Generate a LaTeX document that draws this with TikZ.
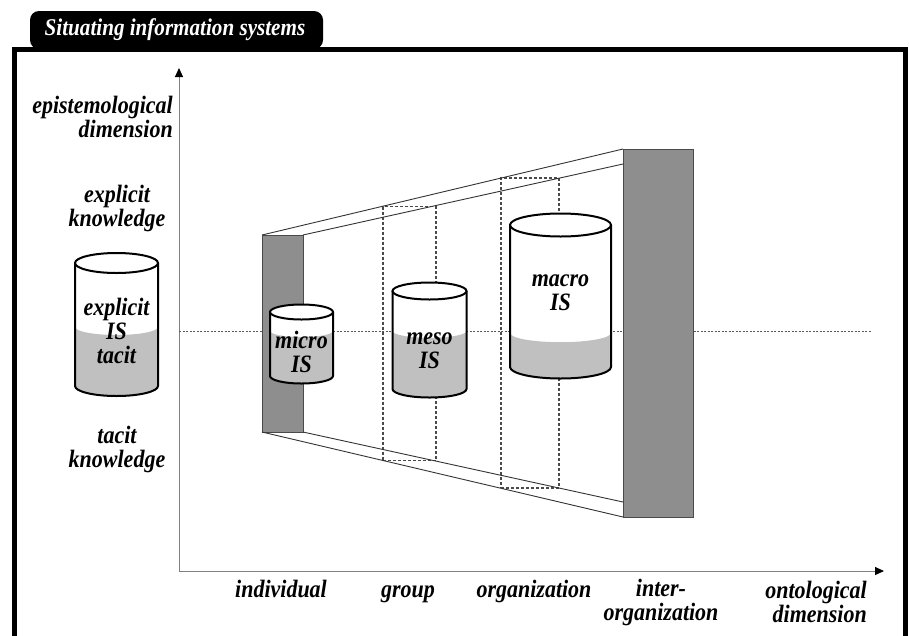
\documentclass[tikz,border=0pt]{standalone}
\usepackage{fontspec}
\setmainfont{Liberation Serif}
\newfontfamily\labfont[FakeStretch=0.88]{Liberation Serif}
\usetikzlibrary{arrows.meta}
\definecolor{bargrey}{HTML}{8E8E8E}
\definecolor{barline}{HTML}{4A4A4A}
\definecolor{liquid}{HTML}{C0C0C0}
\definecolor{axisgrey}{HTML}{808080}
\tikzset{
  lbl/.style={font=\labfont\fontsize{25}{24}\selectfont\bfseries\itshape, inner sep=0pt, align=center},
  bar/.style={draw=barline, fill=bargrey, line width=1pt, inner sep=0pt, outer sep=0pt},
  slice/.style={draw=barline, dashed, dash pattern=on 3pt off 2pt, line width=1.1pt, inner sep=0pt, outer sep=0pt},
  persp/.style={draw=black!80, line width=0.9pt},
  cylline/.style={draw=black, line width=2pt},
  axisline/.style={draw=axisgrey, line width=1pt, -{Triangle[length=9pt,width=8pt,color=black]}},
}
\newcommand\drawcyl[6]{% cx, top cy, bottom cy, rx, ry, level
  \fill[white] ({#1-#4},{-#2}) -- ({#1-#4},{-#3}) arc[start angle=180,end angle=360,x radius=#4,y radius=#5] -- ({#1+#4},{-#2}) -- cycle;
  \fill[liquid] ({#1-#4},{-#6}) arc[start angle=180,end angle=360,x radius=#4,y radius=#5*0.8] -- ({#1+#4},{-#3}) arc[start angle=0,end angle=-180,x radius=#4,y radius=#5] -- cycle;
  \draw[cylline] ({#1-#4},{-#2}) -- ({#1-#4},{-#3}) arc[start angle=180,end angle=360,x radius=#4,y radius=#5] -- ({#1+#4},{-#2});
  \draw[cylline,fill=white] (#1,{-#2}) ellipse[x radius=#4,y radius=#5];
}
\begin{document}
\begin{tikzpicture}[x=1pt,y=1pt]
\useasboundingbox (0,0) rectangle (909,-635);
% frame and tab
\fill[black, rounded corners=9pt] (30,-49) -- (30,-11) -- (323,-11) -- (323,-49) -- cycle;
\node[font=\labfont\fontsize{24}{24}\selectfont\bfseries\itshape, text=white, inner sep=0pt] (title) at (175,-30) {Situating information systems};
\draw[black, line width=5pt] (14,-640) -- (14,-49) -- (905.5,-49) -- (905.5,-640);
% axes
\coordinate (origin) at (179,-571);
\coordinate (ytip) at (179,-68);
\coordinate (xtip) at (884,-571);
\draw[axisline] (origin) -- (ytip);
\draw[axisline] (origin) -- (xtip);
% dashed middle line
\coordinate (midL) at (179,-331);
\coordinate (midR) at (872,-331);
\draw[axisgrey!70!black, line width=0.8pt, dash pattern=on 2pt off 1.5pt] (midL) -- (midR);
% slices
\node[slice, minimum width=53pt, minimum height=254pt] (grp) at (409.5,-333.5) {};
\node[slice, minimum width=58pt, minimum height=310pt] (org) at (530,-333) {};
% bars
\node[bar, minimum width=41pt, minimum height=197pt] (ind) at (282.5,-333.5) {};
\node[bar, minimum width=70pt, minimum height=368pt] (inter) at (658,-333) {};
\coordinate (interTi) at (623,-164);
\coordinate (interBi) at (623,-502);
\draw[persp] (ind.north west) -- (inter.north west);
\draw[persp] (ind.north east) -- (interTi);
\draw[persp] (ind.south west) -- (inter.south west);
\draw[persp] (ind.south east) -- (interBi);
% cylinders
\drawcyl{116.5}{263}{386}{41.5}{10}{327}
\drawcyl{301.5}{312}{376}{31.5}{7.5}{331}
\drawcyl{429.5}{291}{389}{37}{8.5}{331}
\drawcyl{560.5}{225}{367}{50.5}{11.5}{333}
\node[lbl] (cylA) at (116.5,-331) {explicit\\IS\\tacit};
\node[lbl] (cylB) at (301.5,-352) {micro\\IS};
\node[lbl] (cylC) at (429.5,-351) {meso\\IS};
\node[lbl] (cylD) at (560.5,-293) {macro\\IS};
% left labels
\node[lbl, align=right, anchor=east] (epi) at (173,-117) {epistemological\\dimension};
\node[lbl] (expl) at (117,-208) {explicit\\knowledge};
\node[lbl] (tac) at (117,-449) {tacit\\knowledge};
% bottom labels
\node[lbl, anchor=base] (l1) at (281,-597) {individual};
\node[lbl, anchor=base] (l2) at (408,-597) {group};
\node[lbl, anchor=base] (l3) at (534,-597) {organization};
\node[lbl] (l4) at (661,-602) {inter-\\organization};
\node[lbl, align=right, anchor=east] (l5) at (867,-602) {ontological\\dimension};
\end{tikzpicture}
\end{document}
